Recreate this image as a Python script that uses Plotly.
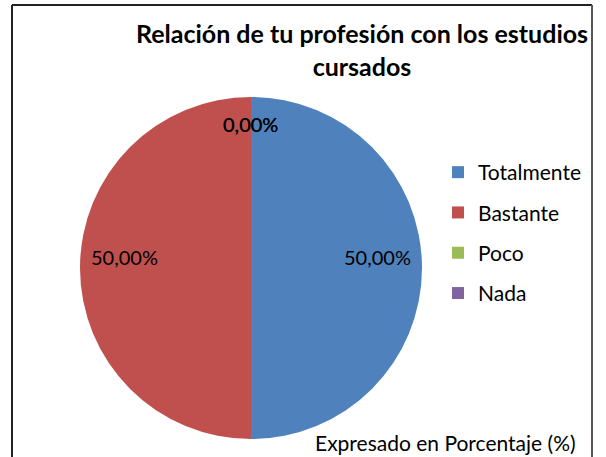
import math
import plotly.graph_objects as go

# Data
categories = ["Totalmente", "Bastante", "Poco", "Nada"]
values = [50, 50, 0, 0]
colors = ["#4F81BD", "#C0504D", "#9BBB59", "#8064A2"]
title_text = "<b>Relación de tu profesión con los estudios<br>cursados</b>"
footer_text = "Expresado en Porcentaje (%)"

W, H = 606, 457
FONT = "Lato, Carlito, Calibri, sans-serif"

# pie geometry (pixels)
cx, cy, r = 251, 268, 171

total = sum(values)

fig = go.Figure()
fig.add_trace(go.Pie(
    labels=categories,
    values=values,
    marker=dict(colors=colors, line=dict(width=0)),
    sort=False,
    direction="clockwise",
    rotation=0,
    textinfo="none",
    domain=dict(x=[(cx - r) / W, (cx + r) / W], y=[1 - (cy + r) / H, 1 - (cy - r) / H]),
    showlegend=False,
))

# legend entries (one per category, no visible marks)
for i, (cat, col) in enumerate(zip(categories, colors)):
    fig.add_trace(go.Scatter(
        x=[None], y=[None], mode="markers", name=cat, legendgroup=cat,
        marker=dict(symbol="square", size=12, color=col),
        showlegend=True, hoverinfo="skip",
    ))

# data labels (Excel-like positions)
annotations = []
cum = 0
for cat, v in zip(categories, values):
    mid = 360 * (cum + v / 2) / total
    rf = 0.74 if v > 0 else 0.84
    px = cx + rf * r * math.sin(math.radians(mid))
    py = cy - rf * r * math.cos(math.radians(mid))
    pct = 100 * v / total
    annotations.append(dict(
        x=px / W, y=1 - py / H, xref="paper", yref="paper",
        xanchor="center", yanchor="middle",
        text=f"{pct:.2f}".replace(".", ",") + "%", showarrow=False,
        yshift=11 if v > 0 else 0,
        font=dict(family=FONT, size=20, color="black"),
    ))
    cum += v

annotations.append(dict(
    x=578 / W, y=1 - 442 / H, xref="paper", yref="paper", xanchor="right", yanchor="middle",
    text=footer_text, showarrow=False,
    font=dict(family=FONT, size=21, color="black"),
))

fig.update_layout(
    width=W, height=H,
    margin=dict(l=0, r=0, t=0, b=0),
    paper_bgcolor="white", plot_bgcolor="white",
    xaxis=dict(visible=False), yaxis=dict(visible=False),
    separators=",.",
    title=dict(text=title_text, x=362 / W, xanchor="center", y=1 - 43 / H, yanchor="middle",
               font=dict(family=FONT, size=25, color="black")),
    legend=dict(x=438 / W, y=1 - 152 / H, xanchor="left", yanchor="top",
                font=dict(family=FONT, size=21, color="black"),
                tracegroupgap=10, bgcolor="rgba(0,0,0,0)"),
    annotations=annotations,
    shapes=[
        dict(type="line", xref="paper", yref="paper", x0=12 / W, x1=12 / W, y0=0, y1=1 - 5 / H,
             line=dict(color="#222222", width=2), layer="above"),
        dict(type="line", xref="paper", yref="paper", x0=12 / W, x1=592 / W, y0=1 - 5 / H, y1=1 - 5 / H,
             line=dict(color="#222222", width=2), layer="above"),
        dict(type="line", xref="paper", yref="paper", x0=592 / W, x1=592 / W, y0=0, y1=1 - 5 / H,
             line=dict(color="#555555", width=2), layer="above"),
    ],
)

fig.write_html("out.html", config={"displayModeBar": False},
               post_script="document.body.style.margin='0';document.body.style.overflow='hidden';")
